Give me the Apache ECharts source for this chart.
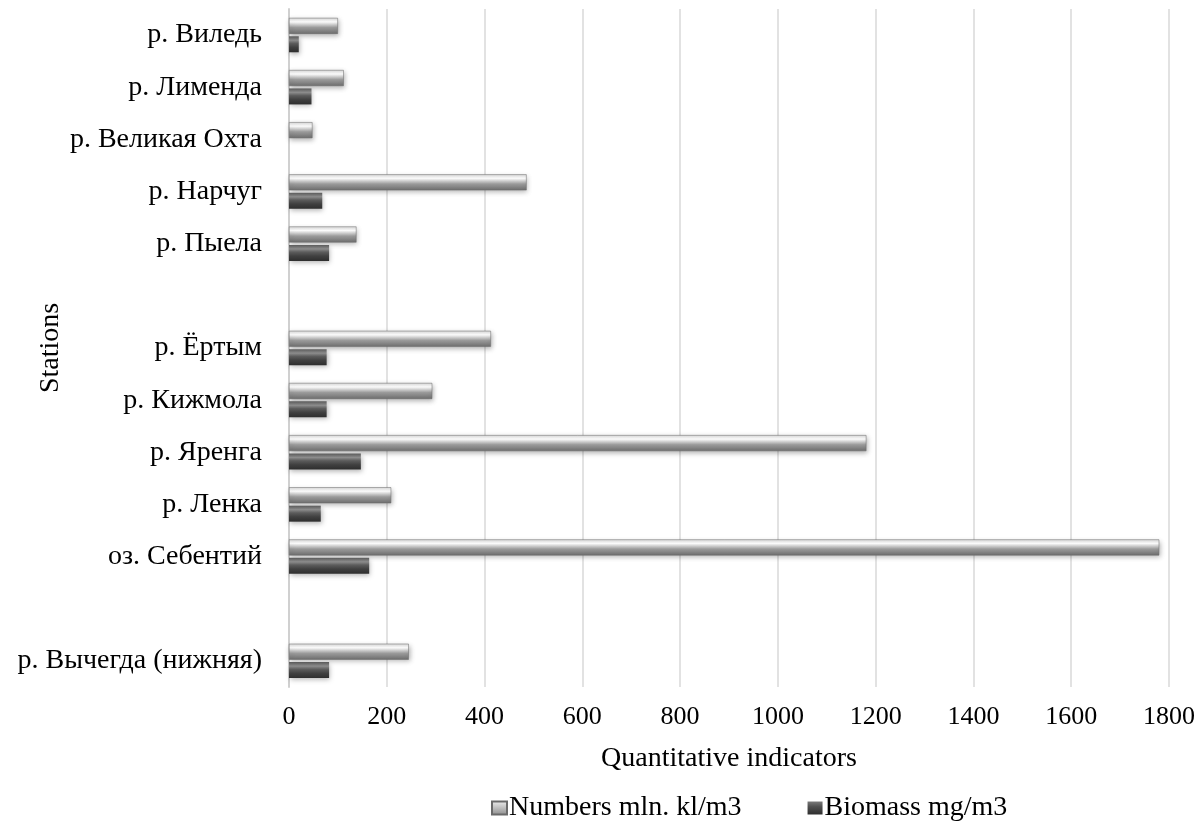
<!DOCTYPE html>
<html><head><meta charset="utf-8">
<script src="https://cdn.jsdelivr.net/npm/echarts@6/dist/echarts.min.js"></script>
<style>html,body{margin:0;padding:0;background:#fff}#c{width:1200px;height:826px}</style>
</head><body><div id="c"></div>
<script>
const categories = ['р. Виледь','р. Лименда','р. Великая Охта','р. Нарчуг','р. Пыела',' ','р. Ёртым','р. Кижмола','р. Яренга','р. Ленка','оз. Себентий','  ','р. Вычегда (нижняя)'];
const numbers = [100, 112, 48, 486, 138, null, 413, 293, 1181, 209, 1780, null, 245];
const biomass = [20, 46, 0, 68, 82, null, 77, 77, 147, 65, 164, null, 82];
const xTicks = {min: 0, max: 1800, interval: 200};
const seriesNames = ['Numbers mln. kl/m3', 'Biomass mg/m3'];

const font = 'Liberation Serif';
function grad(stops){
  return new echarts.graphic.LinearGradient(0,0,0,1, stops.map(s=>({offset:s[0], color:s[1]})));
}
const lightGrad = grad([[0,'#d8d8d8'],[0.25,'#ffffff'],[0.45,'#c4c4c4'],[0.6,'#9a9a9a'],[1,'#6e6e6e']]);
const darkGrad = grad([[0,'#5a5a5a'],[0.25,'#8c8c8c'],[0.45,'#5c5c5c'],[0.7,'#404040'],[1,'#2e2e2e']]);

const chart = echarts.init(document.getElementById('c'));
chart.setOption({
  animation: false,
  backgroundColor: '#fff',
  grid: {left: 289, right: 31, top: 9, bottom: 139, containLabel: false, outerBoundsMode: 'none'},
  legend: {
    top: 789, left: 486, itemGap: 66, itemWidth: 15, itemHeight: 13, icon: 'rect',
    textStyle: {fontFamily: font, fontSize: 28, color: '#000', padding: [0,0,0,-3]},
    data: [
      {name: seriesNames[0], itemStyle: {color: grad([[0,'#f0f0f0'],[0.4,'#c8c8c8'],[1,'#8a8a8a']])}},
      {name: seriesNames[1], itemStyle: {color: grad([[0,'#7a7a7a'],[0.4,'#505050'],[1,'#2e2e2e']])}}
    ]
  },
  xAxis: {
    type: 'value', min: xTicks.min, max: xTicks.max, interval: xTicks.interval,
    name: 'Quantitative indicators', nameLocation: 'middle', nameGap: 58, nameMoveOverlap: false,
    nameTextStyle: {fontFamily: font, fontSize: 28, color: '#000'},
    axisLine: {show: false}, axisTick: {show: false},
    axisLabel: {fontFamily: font, fontSize: 26, color: '#000', margin: 17, formatter: v => String(v)},
    splitLine: {show: true, lineStyle: {color: '#d9d9d9', width: 1.5}}
  },
  yAxis: {
    type: 'category', data: categories, inverse: true,
    name: 'Stations', nameLocation: 'middle', nameGap: 224, nameRotate: 90, nameMoveOverlap: false,
    nameTextStyle: {fontFamily: font, fontSize: 28, color: '#000'},
    axisLine: {show: true, lineStyle: {color: '#d0d0d0', width: 2}},
    axisTick: {show: false},
    axisLabel: {fontFamily: font, fontSize: 28, color: '#000', margin: 27}
  },
  series: [
    {name: seriesNames[0], type: 'bar', data: numbers, barWidth: 16, barGap: '15%',
     itemStyle: {color: lightGrad, borderColor: '#6a6a6a', borderWidth: 0.5, shadowBlur: 5, shadowColor: 'rgba(0,0,0,0.3)', shadowOffsetY: 2, shadowOffsetX: 1}},
    {name: seriesNames[1], type: 'bar', data: biomass, barWidth: 16, barGap: '15%',
     itemStyle: {color: darkGrad, borderWidth: 0, shadowBlur: 5, shadowColor: 'rgba(0,0,0,0.3)', shadowOffsetY: 2, shadowOffsetX: 1}}
  ]
});
</script></body></html>
